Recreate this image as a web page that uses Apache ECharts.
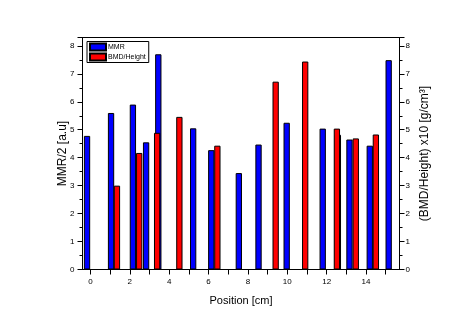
<!DOCTYPE html>
<html>
<head>
<meta charset="utf-8">
<script src="https://cdn.jsdelivr.net/npm/echarts@6/dist/echarts.min.js"></script>
<style>
html,body{margin:0;padding:0;background:#fff;}
#c{width:463px;height:325px;}
</style>
</head>
<body>
<div id="c"></div>
<script>
// Data
const mmrPositions = [-0.17, 1.05, 2.16, 2.83, 3.45, 5.22, 6.14, 7.54, 8.54, 9.97, 11.80, 12.57, 13.16, 14.19, 15.15];
const mmrValues    = [4.78, 5.60, 5.90, 4.55, 7.70, 5.05, 4.27, 3.45, 4.47, 5.25, 5.04, 4.82, 4.65, 4.43, 7.49];
const bmdPositions = [1.35, 2.48, 3.39, 4.52, 6.45, 9.41, 10.91, 12.52, 13.48, 14.50];
const bmdValues    = [3.00, 4.17, 4.89, 5.46, 4.43, 6.72, 7.44, 5.04, 4.69, 4.83];
const xTickValues  = [0,1,2,3,4,5,6,7,8,9,10,11,12,13,14,15];
const xLabelValues = [0,2,4,6,8,10,12,14];
const seriesNames  = ['MMR', 'BMD/Height'];
const leftTitle  = 'MMR/2 [a.u]';
const rightTitle = '(BMD/Height) x10 [g/cm³]';
const xTitle     = 'Position [cm]';

const font = 'Liberation Sans, Arial, sans-serif';
const chart = echarts.init(document.getElementById('c'), null, {renderer: 'canvas'});

function yAxisCfg(pos, title) {
  const left = pos === 'left';
  return {
    type: 'value', position: pos, min: 0, max: 8.3, interval: 1,
    name: title, nameLocation: 'middle', nameRotate: 90,
    nameMoveOverlap: false,
    nameGap: left ? 14 : 19,
    nameTextStyle: {fontFamily: font, fontSize: 12, color: '#000'},
    axisLine: {show: true, onZero: false, lineStyle: {color: '#000', width: 1}},
    axisTick: {show: true, inside: false, length: 5, lineStyle: {color: '#000'}},
    minorTick: {show: true, splitNumber: 2, length: 3, lineStyle: {color: '#000'}},
    axisLabel: {fontFamily: font, fontSize: 8, color: '#000', margin: left ? 8 : 6,
      formatter: v => (v > 8.01 ? '' : String(v))},
    splitLine: {show: false}
  };
}

chart.setOption({
  animation: false,
  grid: {left: 82.5, right: 63.5, top: 37.5, bottom: 55.5, show: true,
         borderColor: '#000', borderWidth: 1, backgroundColor: 'transparent'},
  legend: {
    show: true, orient: 'vertical', left: 87, top: 41.5,
    data: seriesNames, icon: 'rect', itemWidth: 16, itemHeight: 7, itemGap: 1,
    borderColor: '#000', borderWidth: 1, padding: [1, 3, 1, 2],
    textStyle: {fontFamily: font, fontSize: 7, color: '#000', padding: [0, 0, 0, -3]}
  },
  xAxis: {
    type: 'value', min: -0.4, max: 15.7,
    name: xTitle, nameLocation: 'middle', nameGap: 26,
    nameTextStyle: {fontFamily: font, fontSize: 11, color: '#000'},
    axisLine: {show: true, onZero: false, lineStyle: {color: '#000', width: 1}},
    axisTick: {show: true, inside: false, length: 5, customValues: xTickValues, lineStyle: {color: '#000'}},
    axisLabel: {fontFamily: font, fontSize: 8, color: '#000', margin: 8, customValues: xLabelValues},
    splitLine: {show: false}
  },
  yAxis: [yAxisCfg('left', leftTitle), yAxisCfg('right', rightTitle)],
  series: [
    {
      name: seriesNames[0], type: 'bar', yAxisIndex: 0,
      barWidth: 6.3, barGap: '-100%',
      itemStyle: {color: '#0000FF', borderColor: '#000', borderWidth: 1},
      data: mmrPositions.map((p, i) => [p, mmrValues[i]]),
      z: 2
    },
    {
      name: seriesNames[1], type: 'bar', yAxisIndex: 1,
      barWidth: 6.3, barGap: '-100%',
      itemStyle: {color: '#FF0000', borderColor: '#000', borderWidth: 1},
      data: bmdPositions.map((p, i) => [p, bmdValues[i]]),
      z: 3
    }
  ]
});
</script>
</body>
</html>
